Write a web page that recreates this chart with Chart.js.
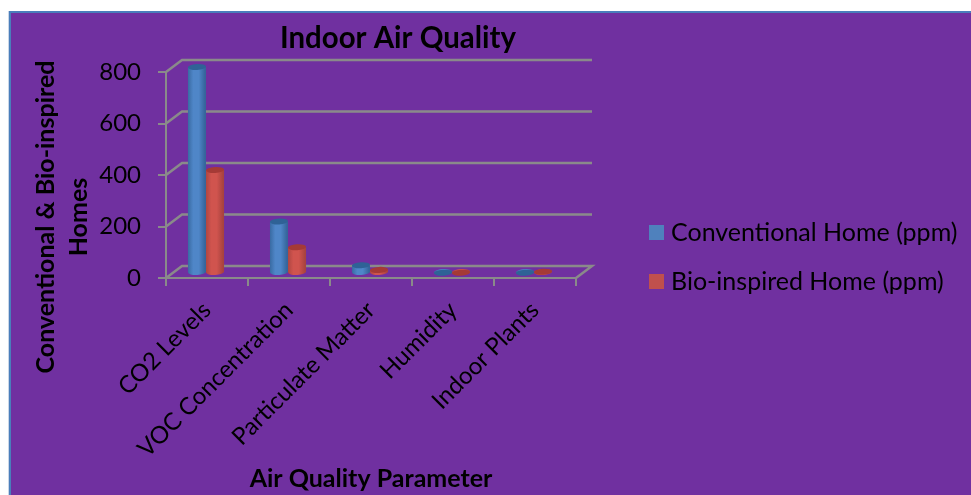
<!DOCTYPE html>
<html><head><meta charset="utf-8">
<style>html,body{margin:0;padding:0;background:#fff}#w{width:971px;height:495px;position:relative}canvas{display:block}</style>
<script src="https://cdn.jsdelivr.net/npm/chart.js@4"></script></head>
<body><div id="w"><canvas id="c" width="971" height="495"></canvas></div>
<script>
const categories = ['CO2 Levels','VOC Concentration','Particulate Matter','Humidity','Indoor Plants'];
const conventional = [800,200,30,1,1];
const bioInspired = [400,100,12,1,5];
const yTicks = [0,200,400,600,800];
const seriesNames = ['Conventional Home (ppm)','Bio-inspired Home (ppm)'];
const titleText = 'Indoor Air Quality';
const xTitle = 'Air Quality Parameter';
const yTitle = ['Conventional & Bio-inspired','Homes'];

const FONT='Lato';
const GRAY='#8a8a8a';
const PAL=[{edge:'#35659b',mid:'#4f86c8',top:'#2f6296',key:'#4f81bd'},{edge:'#a8433f',mid:'#d0544e',top:'#a53a36',key:'#c0504d'}];
const DEPTH={x:16,y:-12}, SHIFT={x:-1,y:-5}, CAT=0.44;

function key(color){const k=document.createElement('canvas');k.width=15;k.height=15;const g=k.getContext('2d');g.fillStyle=color;g.fillRect(0,0,15,15);return k;}
function barFill(ctx,ds){
  const chart=ctx.chart, pal=PAL[ds];
  if(ctx.type!=='data'||!chart.scales.x) return pal.key;
  const s=chart.scales.x, w=(s.width/categories.length)*CAT/2;
  const c=s.getPixelForValue(ctx.dataIndex)+(ds===0?-w/2:w/2)+SHIFT.x;
  const g=chart.ctx.createLinearGradient(c-w/2,0,c+w/2,0);
  g.addColorStop(0,pal.edge);g.addColorStop(.35,pal.mid);g.addColorStop(.65,pal.mid);g.addColorStop(1,pal.edge);
  return g;
}
function ell(ctx,x,y,rx,ry,fill){ctx.beginPath();ctx.ellipse(x,y,rx,ry,-0.06,0,Math.PI*2);ctx.fillStyle=fill;ctx.fill();}

const scene={
  id:'scene',
  beforeLayout(chart){
    const l=chart.legend;
    if(l&&!l._w){const f=l.fit;l.fit=function(){f.call(this);this.width=395;};l._w=1;}
  },
  beforeDraw(chart){
    const c=chart.ctx;
    c.save();
    c.fillStyle='#ffffff';c.fillRect(0,0,chart.width,chart.height);
    c.fillStyle='#c9d6e8';c.fillRect(8,11,2,chart.height);
    c.fillStyle='#4a7ebb';c.fillRect(9,11,chart.width,chart.height);
    c.fillStyle='#7030a0';c.fillRect(11,13,chart.width,chart.height);
    c.restore();
    const t=chart.titleBlock; t.left=280;t.right=516;
    const l=chart.legend; l.left=630.5;l.top=196;l.right=971;l.bottom=330;
    const y=chart.scales.y;
    if(!y._w){const d=y.drawTitle;y.drawTitle=function(){const b=this.bottom;this.bottom=b+84;d.call(this);this.bottom=b;};y._w=1;}
  },
  beforeDatasetsDraw(chart){
    const c=chart.ctx,{x,y}=chart.scales;
    c.save();
    c.strokeStyle=GRAY;c.lineWidth=2.5;
    yTicks.forEach(v=>{
      const py=y.getPixelForValue(v);
      c.beginPath();c.moveTo(x.left,py);c.lineTo(x.left+DEPTH.x,py+DEPTH.y);c.lineTo(x.right+DEPTH.x,py+DEPTH.y);
      if(v===0)c.lineTo(x.right,py);
      c.stroke();
    });
    c.restore();
    c.save();
    c.translate(SHIFT.x,SHIFT.y);
    chart.data.datasets.forEach((d,i)=>{
      chart.getDatasetMeta(i).data.forEach(b=>ell(c,b.x,b.base,b.width/2,3,b.options.backgroundColor));
    });
  },
  afterDatasetsDraw(chart){
    const c=chart.ctx;
    chart.data.datasets.forEach((d,i)=>{
      chart.getDatasetMeta(i).data.forEach(b=>ell(c,b.x,b.y,b.width/2,3,PAL[i].top));
    });
    c.restore();
  }
};

new Chart(document.getElementById('c'),{
  type:'bar',
  data:{labels:categories,datasets:[
    {label:seriesNames[0],data:conventional,backgroundColor:ctx=>barFill(ctx,0),borderWidth:0,clip:false},
    {label:seriesNames[1],data:bioInspired,backgroundColor:ctx=>barFill(ctx,1),borderWidth:0,clip:false}
  ]},
  options:{
    responsive:false,animation:false,devicePixelRatio:1,
    layout:{padding:0},
    categoryPercentage:CAT,barPercentage:1,
    plugins:{
      tooltip:{enabled:false},
      title:{display:true,text:titleText,color:'#000',font:{family:FONT,size:29.5,weight:'bold',lineHeight:1.2},padding:{top:20.3,bottom:16.3}},
      legend:{display:true,position:'right',align:'start',
        labels:{color:'#000',font:{family:FONT,size:25,lineHeight:1.2},usePointStyle:true,pointStyleWidth:4,padding:24,
          generateLabels(chart){return seriesNames.map((n,i)=>({text:n,datasetIndex:i,pointStyle:key(PAL[i].key),fontColor:'#000',lineWidth:0,strokeStyle:'transparent',fillStyle:PAL[i].key}));}
        }}
    },
    scales:{
      x:{
        afterFit(s){s.height=217;},
        grid:{display:true,drawOnChartArea:false,drawTicks:true,tickLength:8,color:GRAY,lineWidth:2},
        border:{display:true,color:GRAY,width:2},
        ticks:{color:'#000',autoSkip:false,minRotation:45,maxRotation:45,padding:10,font:{family:FONT,size:24}},
        title:{display:true,text:xTitle,color:'#000',font:{family:FONT,size:25,weight:'bold',lineHeight:1.2},padding:{top:0,bottom:1}}
      },
      y:{
        min:0,max:800,
        afterFit(s){s.width=166;},
        afterBuildTicks(s){s.ticks=yTicks.map(v=>({value:v}));},
        grid:{display:true,drawOnChartArea:false,drawTicks:true,tickLength:8,color:GRAY,lineWidth:2},
        border:{display:true,color:GRAY,width:2},
        ticks:{color:'#000',padding:17,font:{family:FONT,size:24}},
        title:{display:true,text:yTitle,color:'#000',font:{family:FONT,size:25,weight:'bold',lineHeight:33/25},padding:{top:29.5,bottom:0}}
      }
    }
  },
  plugins:[scene]
});
</script></body></html>
